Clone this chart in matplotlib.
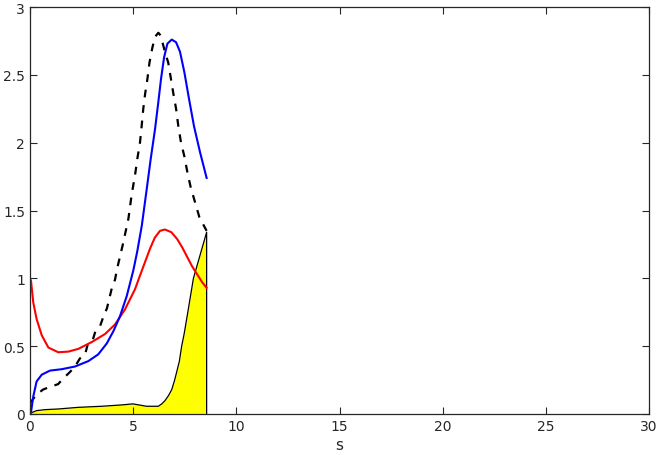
import numpy as np
import matplotlib
matplotlib.use("Agg")
from matplotlib import pyplot as plt

# blue curve
blue_x = [0, 0.05, 0.16, 0.32, 0.57, 0.97, 1.53, 2.18, 2.83, 3.31, 3.72, 4.04, 4.36, 4.69, 5.01, 5.2,
          5.42, 5.65, 5.85, 6.06, 6.22, 6.35, 6.5, 6.66, 6.87, 7.08, 7.27, 7.48, 7.71, 7.95, 8.24, 8.56]
blue_y = [0, 0.015, 0.13, 0.24, 0.29, 0.32, 0.33, 0.35, 0.39, 0.44, 0.52, 0.61, 0.72, 0.87, 1.06, 1.2,
          1.39, 1.65, 1.88, 2.10, 2.30, 2.47, 2.63, 2.73, 2.76, 2.74, 2.67, 2.52, 2.32, 2.12, 1.93, 1.74]

# red curve
red_x = [0, 0.05, 0.16, 0.32, 0.57, 0.89, 1.37, 1.86, 2.34, 2.99, 3.64, 4.12, 4.6, 5.09, 5.33, 5.82,
         6.05, 6.3, 6.54, 6.85, 7.13, 7.37, 7.61, 7.85, 8.1, 8.35, 8.56]
red_y = [1.0, 0.98, 0.82, 0.70, 0.58, 0.49, 0.455, 0.46, 0.48, 0.53, 0.59, 0.66, 0.77, 0.92, 1.02, 1.22,
         1.30, 1.35, 1.36, 1.34, 1.29, 1.23, 1.16, 1.09, 1.03, 0.97, 0.93]

# black dashed curve
dash_x = [0, 0.3, 0.63, 0.97, 1.36, 1.6, 1.94, 2.18, 2.42, 2.67, 2.81, 3.05, 3.15, 3.4, 3.54, 3.73,
          3.97, 4.12, 4.22, 4.5, 4.77, 4.93, 5.09, 5.2, 5.33, 5.41, 5.49, 5.58, 5.69, 5.79, 5.93, 6.06,
          6.22, 6.33, 6.54, 6.7, 6.82, 6.95, 7.08, 7.19, 7.32, 7.48, 7.63, 7.79, 8.0, 8.21, 8.56]
dash_y = [0.08, 0.14, 0.18, 0.20, 0.22, 0.26, 0.31, 0.35, 0.41, 0.44, 0.52, 0.55, 0.60, 0.65, 0.71, 0.78,
          0.93, 0.99, 1.07, 1.25, 1.44, 1.62, 1.76, 1.88, 2.0, 2.12, 2.25, 2.36, 2.47, 2.59, 2.70, 2.78,
          2.81, 2.79, 2.67, 2.59, 2.48, 2.36, 2.25, 2.12, 2.0, 1.90, 1.78, 1.67, 1.56, 1.45, 1.35]

# filled area
fill_x = [0, 0.08, 0.32, 0.73, 1.37, 2.34, 3.47, 4.36, 4.6, 4.93, 5.01, 5.65, 6.22, 6.38, 6.54, 6.71,
          6.87, 7.0, 7.11, 7.24, 7.35, 7.47, 7.67, 7.92, 8.24, 8.56]
fill_y = [0, 0.01, 0.025, 0.032, 0.037, 0.049, 0.057, 0.066, 0.069, 0.074, 0.074, 0.057, 0.057, 0.074,
          0.098, 0.135, 0.18, 0.245, 0.31, 0.39, 0.50, 0.59, 0.77, 1.0, 1.17, 1.34]

fig = plt.figure(figsize=(6.6, 4.56), dpi=100)
ax = fig.add_axes([30/660, 41/456, 619/660, 407/456])

fx = np.array(fill_x + [fill_x[-1]])
fy = np.array(fill_y + [0])
ax.fill_between(fx, 0, fy, color='yellow', linewidth=0)
ax.plot(fx, fy, color='black', lw=0.9)

ax.plot(dash_x, dash_y, color='black', lw=1.6, dashes=(3.5, 3.5))
ax.plot(red_x, red_y, color='red', lw=1.5)
ax.plot(blue_x, blue_y, color='blue', lw=1.5)

ax.set_xlim(0, 30)
ax.set_ylim(0, 3)
ax.set_xticks([0, 5, 10, 15, 20, 25, 30])
ax.set_yticks([0, 0.5, 1, 1.5, 2, 2.5, 3])
ax.set_yticklabels(['0', '0.5', '1', '1.5', '2', '2.5', '3'])
ax.tick_params(direction='in', top=True, right=True, length=5, width=0.8,
               labelsize=10, colors='#262626')
for sp in ax.spines.values():
    sp.set_linewidth(0.9)
    sp.set_color('#262626')
ax.set_xlabel('s', fontsize=11, color='#262626', labelpad=3)

fig.savefig('out.png', dpi=100)
